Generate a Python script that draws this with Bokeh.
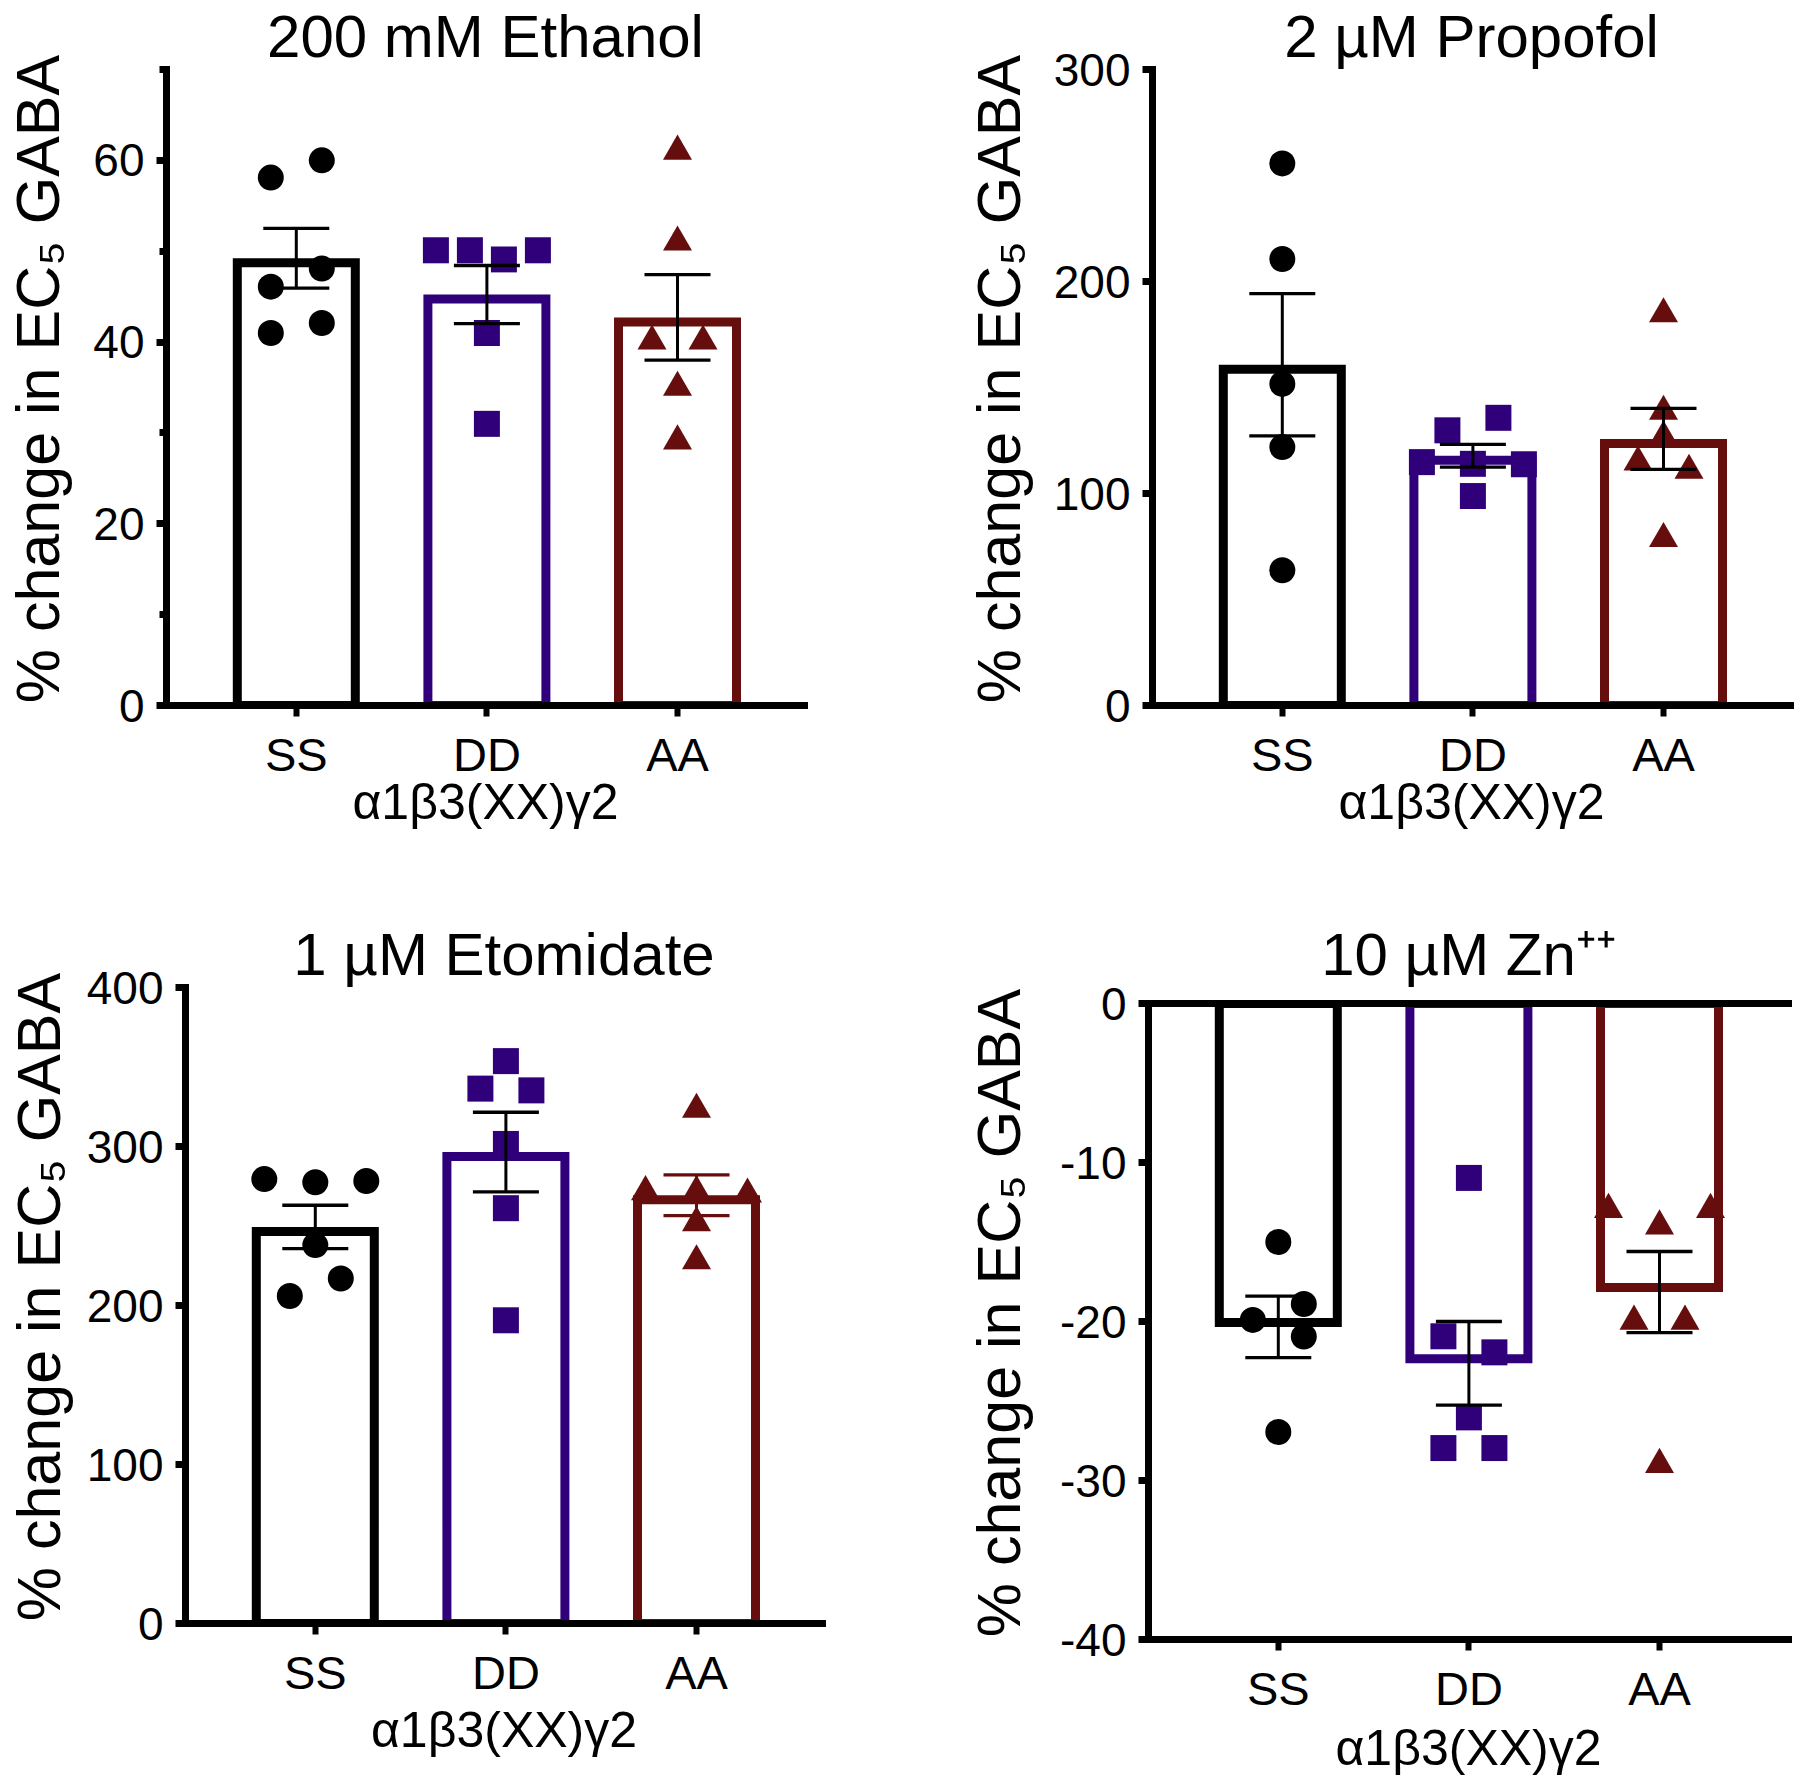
import math
import numpy as np
from bokeh.plotting import figure
from bokeh.models import LinearAxis, FixedTicker, Range1d, Title, Spacer
from bokeh.layouts import column, row
from bokeh.embed import file_html
from bokeh.resources import INLINE

# ---------------- data ----------------
categories = ["SS", "DD", "AA"]
x_axis_title = "α1β3(XX)γ2"
y_axis_title = "\u00a0% change in EC₅ GABA"

colors = ["#000000", "#2F0079", "#660E0E"]
markers = ["circle", "square", "triangle"]

ethanol_title = "200 mM Ethanol"
ethanol_SS = [58.1, 60.0, 46.1, 48.1, 41.0, 42.1]
ethanol_DD = [50.1, 50.1, 49.1, 50.1, 41.0, 31.0]
ethanol_AA = [61.0, 51.0, 40.1, 40.1, 35.0, 29.1]
ethanol_ticks = [0, 20, 40, 60]
ethanol_minor = [10, 30, 50, 70]
ethanol_range = (0, 70)

propofol_title = "2 µM Propofol"
propofol_SS = [255.7, 210.6, 151.7, 121.9, 63.8]
propofol_DD = [114.8, 114.0, 113.8, 129.8, 135.7, 98.8]
propofol_AA = [184.7, 138.7, 126.6, 114.8, 110.9, 78.7]
propofol_ticks = [0, 100, 200, 300]
propofol_range = (0, 300)

etomidate_title = "1 µM Etomidate"
etomidate_SS = [279.5, 277.5, 278.3, 238.0, 206.0, 217.0]
etomidate_DD = [353.7, 336.4, 335.3, 301.6, 261.2, 190.7]
etomidate_AA = [323.3, 271.5, 271.5, 270.0, 252.0, 228.0]
etomidate_ticks = [0, 100, 200, 300, 400]
etomidate_range = (0, 400)

zinc_title = "10 µM Zn⁺⁺"
zinc_SS = [-15.0, -19.9, -18.9, -20.95, -26.95]
zinc_DD = [-10.97, -20.93, -21.94, -26.03, -27.96, -27.96]
zinc_AA = [-12.96, -14.0, -12.96, -19.99, -19.99, -29.0]
zinc_ticks = [0, -10, -20, -30, -40]
zinc_tick_labels = ["0", "-10", "-20", "-30", "-40"]
zinc_range = (-40, 0)

# ---------------- styling / layout ----------------
FONT = "Liberation Sans"
CAT_PX = 190.6        # pixels between categories
FIRST_CAT_PX = 129.8  # y-axis to first category
BAR_OUTER_PX = 127
BAR_LW = 9
CAP_PX = 66
AXIS_LW = 7


def swarm(vals, ppu, thr=20.0):
    n = len(vals)
    offs = [0.0] * n
    order = sorted(range(n), key=lambda i: vals[i])
    clusters, cur = [], [order[0]]
    for a, b in zip(order, order[1:]):
        if abs(vals[b] - vals[a]) * ppu < thr:
            cur.append(b)
        else:
            clusters.append(cur)
            cur = [b]
    clusters.append(cur)
    for cl in clusters:
        if len(cl) < 2:
            continue
        sv = sorted(vals[i] for i in cl)
        k = max(sum(1 for w in sv if 0 <= (w - v) * ppu < thr) for v in sv)
        k = max(k, 2)
        step = min(51.0, 102.0 / (k - 1))
        cols = [(j - (k - 1) / 2.0) * step for j in range(k)]
        placed = {j: [] for j in range(k)}
        for i in sorted(cl):
            chosen = None
            for j in range(k):
                if all(abs(vals[i] - v) * ppu >= thr for v in placed[j]):
                    chosen = j
                    break
            if chosen is None:
                chosen = max(range(k), key=lambda j: min(abs(vals[i] - v) for v in placed[j]))
            placed[chosen].append(vals[i])
            offs[i] = cols[chosen]
    return [o / CAT_PX for o in offs]


def panel(title, groups, ticks, minor, yrange, borders, frame_size, title_standoff,
          ylabel_standoff, xlabel_standoff, err_colors, tick_labels=None, top_line=False):
    bl, bt, br, bb = borders
    fw, fh = frame_size
    x0 = -FIRST_CAT_PX / CAT_PX
    x1 = x0 + fw / CAT_PX
    y0, y1 = yrange
    ppu = fh / (y1 - y0)

    p = figure(frame_width=fw, frame_height=fh,
               min_border_left=bl, min_border_top=bt,
               min_border_right=br, min_border_bottom=bb,
               x_range=Range1d(x0, x1), y_range=Range1d(y0, y1),
               toolbar_location=None, output_backend="svg",
               outline_line_color=None, background_fill_color="white",
               border_fill_color="white")
    p.xgrid.visible = False
    p.ygrid.visible = False

    p.title = Title(text=title, align="center", text_font=FONT, text_font_size="60px",
                    text_font_style="normal", text_color="black", standoff=title_standoff)

    bw = (BAR_OUTER_PX - BAR_LW) / CAT_PX
    inset = BAR_LW / 2.0 / ppu
    stats = []
    for i, vals in enumerate(groups):
        arr = np.array(vals, dtype=float)
        m = arr.mean()
        s = arr.std(ddof=1) / math.sqrt(len(arr))
        stats.append((m, s))
        if m >= 0:
            top, bottom = m - inset, 0
        else:
            top, bottom = 0, m + inset
        p.vbar(x=[i], width=bw, top=[top], bottom=[bottom], fill_color="white",
               line_color=colors[i], line_width=BAR_LW, line_join="miter")

    for i, vals in enumerate(groups):
        offs = swarm(vals, ppu)
        size_m = 29 if markers[i] == "triangle" else 26
        p.scatter(x=[i + o for o in offs], y=vals, marker=markers[i], size=size_m,
                  fill_color=colors[i], line_color=None)

    cw = CAP_PX / CAT_PX
    for i, (m, s) in enumerate(stats):
        c = err_colors[i]
        p.segment(x0=[i], y0=[m - s], x1=[i], y1=[m + s], line_color=c, line_width=3)
        p.segment(x0=[i - cw / 2, i - cw / 2], y0=[m - s, m + s],
                  x1=[i + cw / 2, i + cw / 2], y1=[m - s, m + s],
                  line_color=c, line_width=3.3)

    xa = p.xaxis[0]
    xa.ticker = FixedTicker(ticks=[0, 1, 2])
    xa.major_label_overrides = {0: categories[0], 1: categories[1], 2: categories[2]}
    xa.axis_line_width = AXIS_LW
    xa.axis_line_cap = "square"
    xa.major_tick_line_width = 6
    xa.major_tick_out = 11
    xa.major_tick_in = 0
    xa.minor_tick_line_color = None
    xa.major_label_text_font = FONT
    xa.major_label_text_font_size = "47px"
    xa.major_label_text_color = "black"
    xa.major_label_standoff = 11
    xa.axis_label = x_axis_title
    xa.axis_label_text_font = FONT
    xa.axis_label_text_font_size = "50px"
    xa.axis_label_text_font_style = "normal"
    xa.axis_label_text_color = "black"
    xa.axis_label_standoff = xlabel_standoff

    ya = p.yaxis[0]
    ya.ticker = FixedTicker(ticks=ticks, minor_ticks=minor)
    if tick_labels is not None:
        ya.major_label_overrides = {t: lab for t, lab in zip(ticks, tick_labels)}
    ya.axis_line_width = AXIS_LW
    ya.axis_line_cap = "square"
    ya.major_tick_line_width = 7
    ya.major_tick_out = 10
    ya.major_tick_in = 0
    ya.minor_tick_line_width = 7
    ya.minor_tick_out = 7
    ya.minor_tick_in = 0
    ya.major_label_text_font = FONT
    ya.major_label_text_font_size = "46px"
    ya.major_label_text_color = "black"
    ya.major_label_standoff = 12
    ya.axis_label = y_axis_title
    ya.axis_label_text_font = FONT
    ya.axis_label_text_font_size = "61px"
    ya.axis_label_text_font_style = "normal"
    ya.axis_label_text_color = "black"
    ya.axis_label_standoff = ylabel_standoff

    if top_line:
        ta = LinearAxis(ticker=FixedTicker(ticks=[]), axis_line_width=AXIS_LW,
                        axis_line_cap="square", major_tick_out=0, major_tick_in=0,
                        minor_tick_out=0, minor_tick_in=0,
                        major_label_text_font_size="0px")
        p.add_layout(ta, "above")
    return p


black3 = ["black", "black", "black"]

p1 = panel(ethanol_title, [ethanol_SS, ethanol_DD, ethanol_AA], ethanol_ticks, ethanol_minor,
           ethanol_range, borders=(166, 68, 96, 176), frame_size=(638, 636),
           title_standoff=0, ylabel_standoff=18, xlabel_standoff=-10, err_colors=black3)
p2 = panel(propofol_title, [propofol_SS, propofol_DD, propofol_AA], propofol_ticks, [],
           propofol_range, borders=(252, 68, 10, 176), frame_size=(638, 636),
           title_standoff=0, ylabel_standoff=18, xlabel_standoff=-10, err_colors=black3)
p3 = panel(etomidate_title, [etomidate_SS, etomidate_DD, etomidate_AA], etomidate_ticks, [],
           etomidate_range, borders=(185, 106, 78, 148), frame_size=(637, 636),
           title_standoff=0, ylabel_standoff=11, xlabel_standoff=0,
           err_colors=["black", "black", colors[2]])
p4 = panel(zinc_title, [zinc_SS, zinc_DD, zinc_AA], zinc_ticks, [],
           zinc_range, borders=(248, 106, 12, 148), frame_size=(640, 636),
           title_standoff=31, ylabel_standoff=24, xlabel_standoff=2, err_colors=black3,
           tick_labels=zinc_tick_labels, top_line=True)

layout = column(row(p1, p2), row(p3, column(Spacer(width=900, height=16), p4)))
open("out.html", "w").write(file_html(layout, INLINE))
